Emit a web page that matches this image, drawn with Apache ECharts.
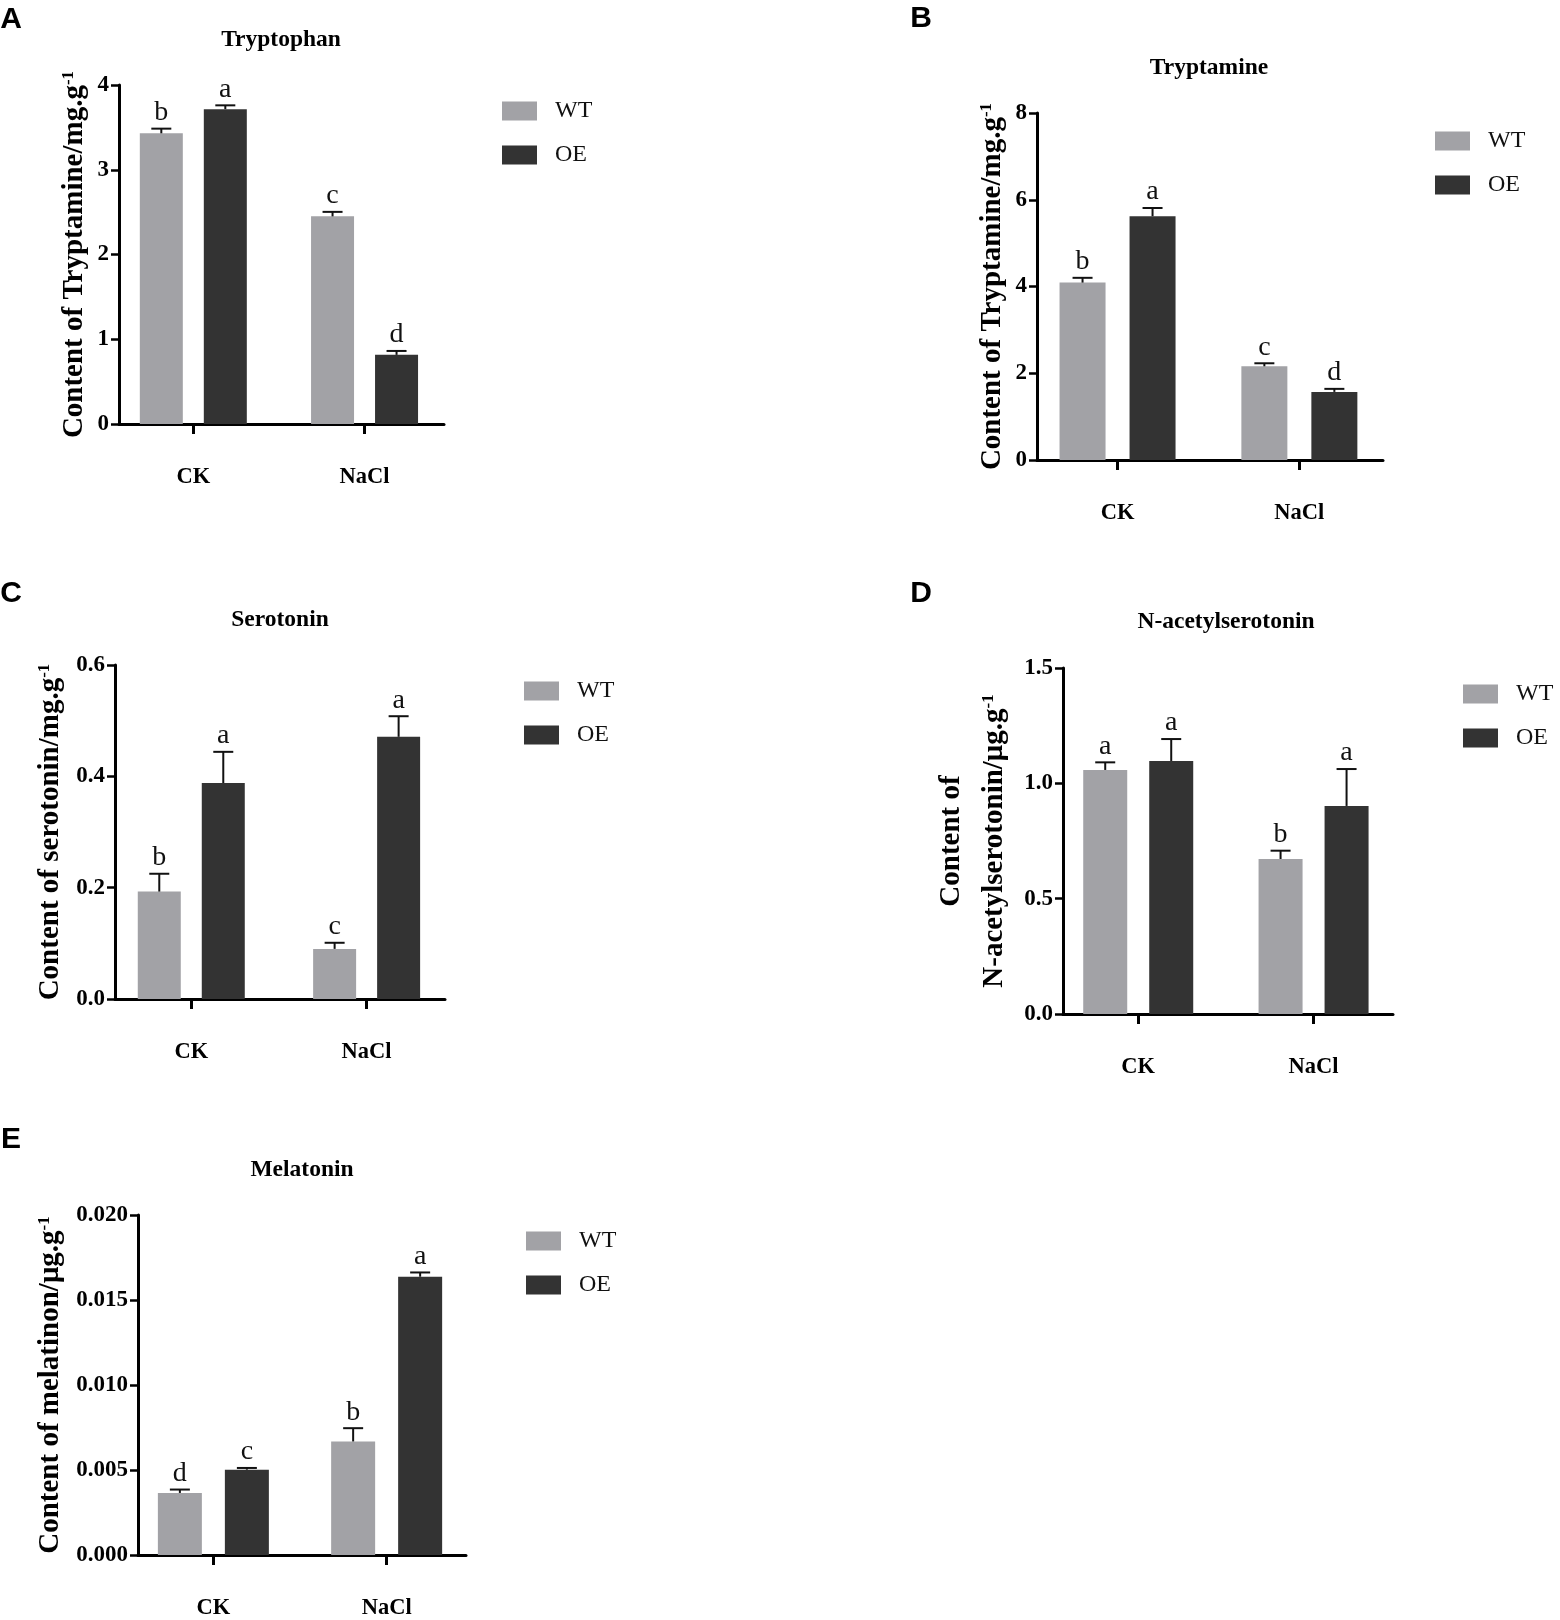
<!DOCTYPE html>
<html>
<head>
<meta charset="utf-8">
<script src="https://cdn.jsdelivr.net/npm/echarts@6/dist/echarts.min.js"></script>
<style>
html, body { margin: 0; padding: 0; background: #fff; }
#main { width: 1560px; height: 1620px; }
</style>
</head>
<body>
<div id="main"></div>
<script>
// data
var categories = ['CK', 'NaCl'];
var groups = ['WT', 'OE'];
var panelLetters = ['A', 'B', 'C', 'D', 'E'];
var panelTitles = ['Tryptophan', 'Tryptamine', 'Serotonin', 'N-acetylserotonin', 'Melatonin'];
var yAxisNames = [
    'Content of Tryptamine/mg.g{sup|-1}',
    'Content of Tryptamine/mg.g{sup|-1}',
    'Content of serotonin/mg.g{sup|-1}',
    'Content of\nN-acetylserotonin/\u03bcg.g{sup|-1}',
    'Content of melatinon/\u03bcg.g{sup|-1}'
];
var yMax = [4, 8, 0.6, 1.5, 0.02];
var yStep = [1, 2, 0.2, 0.5, 0.005];
var yDecimals = [0, 0, 1, 1, 3];

var wtMean = [[3.43, 2.45], [4.09, 2.16], [0.193, 0.090], [1.058, 0.672], [0.00365, 0.00668]];
var wtErr = [[0.055, 0.053], [0.11, 0.07], [0.032, 0.011], [0.033, 0.036], [0.0002, 0.00078]];
var oeMean = [[3.715, 0.816], [5.62, 1.57], [0.388, 0.471], [1.097, 0.902], [0.00502, 0.01637]];
var oeErr = [[0.045, 0.046], [0.19, 0.07], [0.056, 0.037], [0.095, 0.16], [0.0001, 0.00025]];
var wtLetters = [['b', 'c'], ['b', 'c'], ['b', 'c'], ['a', 'b'], ['d', 'b']];
var oeLetters = [['a', 'd'], ['a', 'd'], ['a', 'a'], ['a', 'a'], ['c', 'a']];

// layout of each panel (pixels); xRange = axis extent in category-index units
var layout = [
    {grid: [119, 85, 325, 339], xRange: [-0.434, 1.464], barW: 43, gap: 21, nameGap: 29, nameLH: 30, title: [281, 40], letter: [11, 20], legend: [497, 94]},
    {grid: [1037, 113, 346, 347], xRange: [-0.443, 1.460], barW: 46, gap: 24, nameGap: 29, nameLH: 30, title: [1209, 68], letter: [921, 19], legend: [1430, 124]},
    {grid: [115, 665, 330, 334], xRange: [-0.435, 1.447], barW: 43, gap: 21, nameGap: 49, nameLH: 30, title: [280, 620], letter: [11, 594], legend: [519, 674]},
    {grid: [1063, 668, 330, 346], xRange: [-0.429, 1.453], barW: 44, gap: 22, nameGap: 47, nameLH: 43, title: [1226, 622], letter: [921, 594], legend: [1458, 677]},
    {grid: [138, 1215, 328, 340], xRange: [-0.435, 1.458], barW: 44, gap: 23, nameGap: 72, nameLH: 30, title: [302, 1170], letter: [11, 1140], legend: [521, 1224]}
];

var colors = ['#a2a2a6', '#333333'];
var serif = '"Liberation Serif", "Times New Roman", serif';
var catIndex = categories.map(function (c, ci) { return ci; });

var grids = [], xAxes = [], yAxes = [], series = [], legends = [], graphics = [];

function pairs(values) {
    return values.map(function (v, ci) { return [ci, v]; });
}

function errSeries(i, gi, means, errs, letters) {
    var L = layout[i];
    var off = (gi === 0 ? -1 : 1) * (L.barW + L.gap) / 2;
    return {
        type: 'custom',
        name: groups[gi] + ' err',
        xAxisIndex: i,
        yAxisIndex: i,
        z: 5,
        silent: true,
        data: categories.map(function (c, ci) { return [ci, means[ci], errs[ci]]; }),
        renderItem: function (params, api) {
            var x = api.coord([api.value(0), 0])[0] + off;
            var yTop = api.coord([api.value(0), api.value(1)])[1];
            var yCap = api.coord([api.value(0), api.value(1) + api.value(2)])[1];
            return {
                type: 'group',
                children: [
                    {type: 'line', shape: {x1: x, y1: yTop, x2: x, y2: yCap}, style: {stroke: '#111', lineWidth: 2}},
                    {type: 'line', shape: {x1: x - 10, y1: yCap, x2: x + 10, y2: yCap}, style: {stroke: '#111', lineWidth: 2}},
                    {type: 'text', x: x, y: yCap - 2, style: {text: letters[params.dataIndex], align: 'center', verticalAlign: 'bottom', font: '28px ' + serif, fill: '#111'}}
                ]
            };
        }
    };
}

for (var i = 0; i < 5; i++) {
    var L = layout[i];
    var supPad = Math.round((L.nameLH - 30) / 2);
    grids.push({left: L.grid[0], top: L.grid[1], width: L.grid[2], height: L.grid[3], containLabel: false});
    xAxes.push({
        type: 'value', gridIndex: i, min: L.xRange[0], max: L.xRange[1],
        splitLine: {show: false},
        axisLine: {show: true, onZero: false, lineStyle: {color: '#000', width: 3}},
        axisTick: {show: true, customValues: catIndex, length: 10, lineStyle: {color: '#000', width: 3}},
        axisLabel: {customValues: catIndex, margin: 42, color: '#000', fontFamily: serif, fontWeight: 'bold', fontSize: 22.5,
            formatter: function (v) { return categories[Math.round(v)]; }}
    });
    (function (d) {
        yAxes.push({
            type: 'value', gridIndex: i, min: 0, max: yMax[i], interval: yStep[i],
            name: yAxisNames[i], nameLocation: 'middle', nameGap: L.nameGap, nameRotate: 90,
            nameTextStyle: {
                color: '#000', fontFamily: serif, fontWeight: 'bold', fontSize: 29, lineHeight: L.nameLH,
                rich: {sup: {fontFamily: serif, fontWeight: 'bold', fontSize: 17, lineHeight: 20, verticalAlign: 'top', padding: [supPad, 0, 0, 0]}}
            },
            axisLine: {show: true, onZero: false, lineStyle: {color: '#000', width: 3}},
            axisTick: {show: true, length: 8, lineStyle: {color: '#000', width: 2.5}},
            splitLine: {show: false},
            axisLabel: {margin: 10, color: '#000', fontFamily: serif, fontWeight: 'bold', fontSize: 23,
                formatter: function (v) { return v.toFixed(d); }}
        });
    })(yDecimals[i]);
    series.push({
        type: 'bar', name: 'WT', xAxisIndex: i, yAxisIndex: i, data: pairs(wtMean[i]),
        barWidth: L.barW, barGap: (L.gap / L.barW * 100) + '%',
        itemStyle: {color: colors[0]}, silent: true
    });
    series.push({
        type: 'bar', name: 'OE', xAxisIndex: i, yAxisIndex: i, data: pairs(oeMean[i]),
        barWidth: L.barW, barGap: (L.gap / L.barW * 100) + '%',
        itemStyle: {color: colors[1]}, silent: true
    });
    series.push(errSeries(i, 0, wtMean[i], wtErr[i], wtLetters[i]));
    series.push(errSeries(i, 1, oeMean[i], oeErr[i], oeLetters[i]));
    legends.push({
        data: groups, orient: 'vertical', left: L.legend[0], top: L.legend[1],
        itemWidth: 35, itemHeight: 19, itemGap: 20, icon: 'rect', selectedMode: false,
        textStyle: {fontFamily: serif, fontSize: 24, color: '#111', padding: [0, 0, 0, 13]}
    });
    graphics.push({type: 'text', x: L.title[0], y: L.title[1],
        style: {text: panelTitles[i], align: 'center', verticalAlign: 'middle', font: 'bold 23.5px ' + serif, fill: '#000'}});
    graphics.push({type: 'text', x: L.letter[0], y: L.letter[1],
        style: {text: panelLetters[i], align: 'center', verticalAlign: 'middle', font: 'bold 30px "Liberation Sans", Arial, sans-serif', fill: '#000'}});
}

var myChart = echarts.init(document.getElementById('main'));
myChart.setOption({
    animation: false,
    grid: grids,
    xAxis: xAxes,
    yAxis: yAxes,
    legend: legends,
    graphic: graphics,
    series: series
});
</script>
</body>
</html>
